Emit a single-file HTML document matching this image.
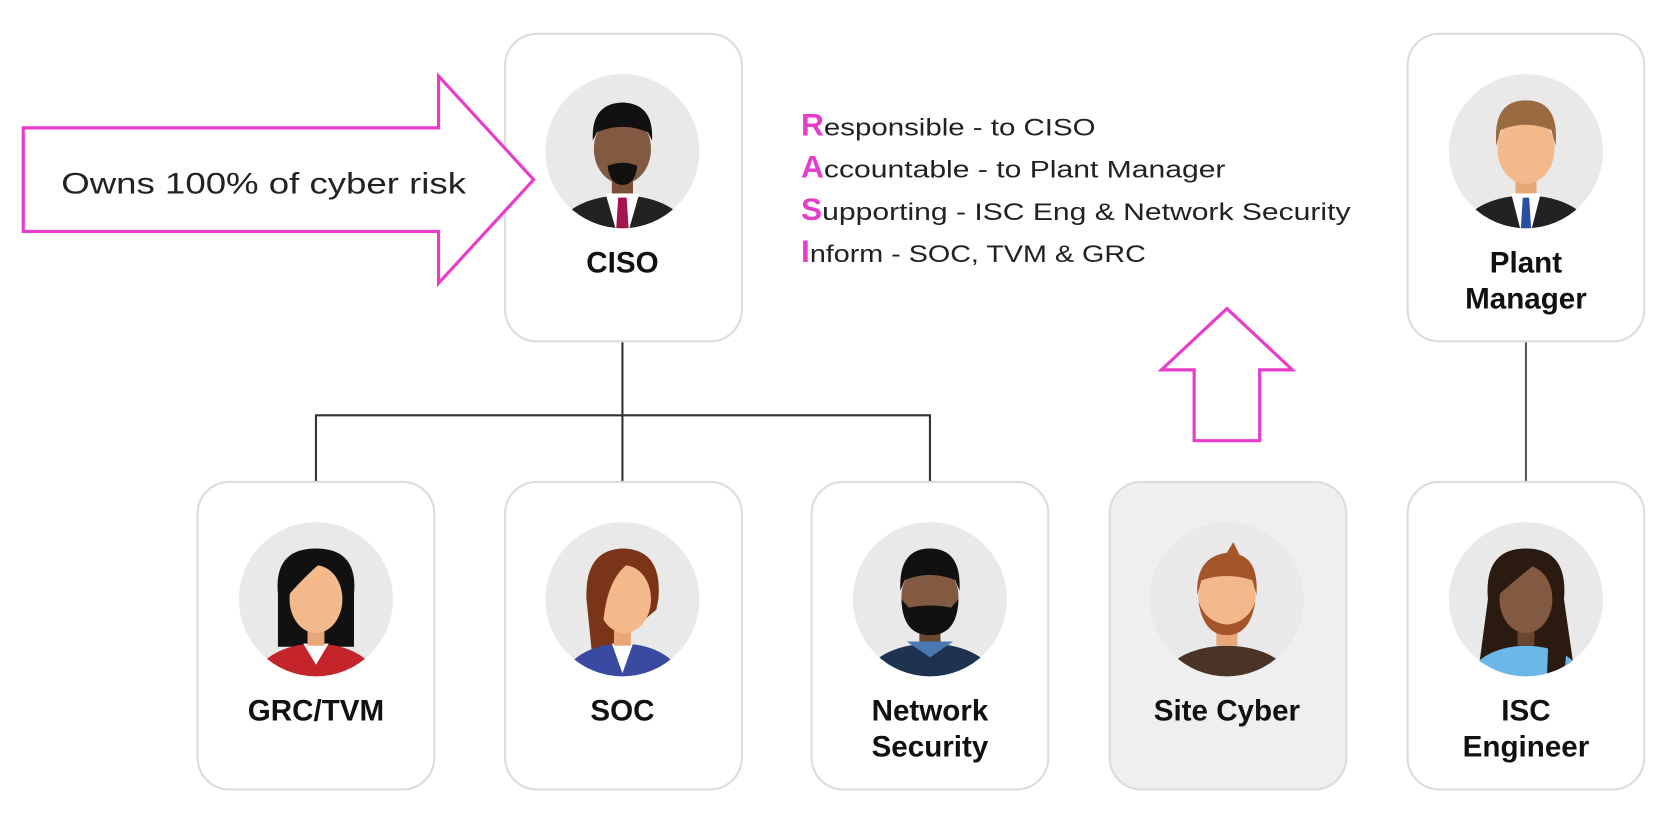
<!DOCTYPE html>
<html><head><meta charset="utf-8"><style>
html,body{margin:0;padding:0;background:#fff;}
svg{display:block;}
text{font-family:"Liberation Sans",sans-serif;}
</style></head><body>
<svg width="1657" height="837" viewBox="0 0 1568 792" preserveAspectRatio="none" xmlns="http://www.w3.org/2000/svg">
<defs>
<clipPath id="c"><circle cx="0" cy="0" r="73"/></clipPath>
</defs>
<rect width="1568" height="792" fill="#fff"/>
<g stroke="#333" stroke-width="2" fill="none">
<path d="M589 323V456M299 456V393H880V456"/>
<path d="M1444 323V456" stroke="#555"/>
</g>
<g stroke="#dcdcdc" stroke-width="2">
<rect x="478" y="32" width="224" height="291" rx="30" fill="#fff"/>
<rect x="1332" y="32" width="224" height="291" rx="30" fill="#fff"/>
<rect x="187" y="456" width="224" height="291" rx="30" fill="#fff"/>
<rect x="478" y="456" width="224" height="291" rx="30" fill="#fff"/>
<rect x="768" y="456" width="224" height="291" rx="30" fill="#fff"/>
<rect x="1050" y="456" width="224" height="291" rx="30" fill="#efefef"/>
<rect x="1332" y="456" width="224" height="291" rx="30" fill="#fff"/>
</g>
<g transform="translate(589,143)"><g clip-path="url(#c)">
<circle r="73" fill="#e9e9e9"/>
<ellipse cx="0" cy="78" rx="62" ry="36" fill="#222"/>
<path d="M-16 40 L16 40 L6 75 L-6 75Z" fill="#fff"/>
<path d="M-4 44 L4 44 L6 75 L-6 75Z" fill="#a3154e"/>
<rect x="-10" y="20" width="20" height="20" fill="#7a5038"/>
<ellipse cx="0" cy="-2" rx="27" ry="33" fill="#825a41"/>
<path d="M-28 -10 Q-30 -45 0 -46 Q30 -45 28 -10 L24 -18 Q0 -28 -24 -18Z" fill="#111"/>
<path d="M-14 14 Q0 8 14 14 Q12 32 0 32 Q-12 32 -14 14Z" fill="#111"/>
</g></g>
<g transform="translate(1444,143)"><g clip-path="url(#c)">
<circle r="73" fill="#e9e9e9"/>
<ellipse cx="0" cy="78" rx="62" ry="36" fill="#222"/>
<path d="M-14 40 L14 40 L5 75 L-5 75Z" fill="#fff"/>
<path d="M-3 44 L3 44 L5 75 L-5 75Z" fill="#2a4fa0"/>
<rect x="-10" y="20" width="20" height="20" fill="#e8a777"/>
<ellipse cx="0" cy="-2" rx="27" ry="33" fill="#f4b98b"/>
<path d="M-28 -5 Q-32 -48 0 -48 Q32 -48 28 -5 L24 -20 Q0 -30 -24 -20Z" fill="#9a6a40"/>
</g></g>
<g transform="translate(299,567)"><g clip-path="url(#c)">
<circle r="73" fill="#e9e9e9"/>
<path d="M-36 -5 Q-40 -48 0 -48 Q40 -48 36 -5 L36 45 L-36 45Z" fill="#111"/>
<ellipse cx="0" cy="78" rx="58" ry="36" fill="#c3252b"/>
<path d="M-12 42 L12 42 L0 62Z" fill="#fff"/>
<rect x="-8" y="20" width="16" height="24" fill="#e8a777"/>
<ellipse cx="0" cy="0" rx="25" ry="32" fill="#f4b98b"/>
<path d="M-26 -4 Q-26 -36 4 -34 Q-10 -22 -26 -4Z" fill="#111"/>
</g></g>
<g transform="translate(589,567)"><g clip-path="url(#c)">
<circle r="73" fill="#e9e9e9"/>
<path d="M-34 0 Q-36 -48 2 -48 Q38 -46 34 0 L32 10 L-28 60Z" fill="#7a3418"/>
<ellipse cx="0" cy="78" rx="56" ry="36" fill="#3a4aa0"/>
<path d="M-10 42 L10 42 L0 70Z" fill="#fff"/>
<rect x="-8" y="20" width="16" height="24" fill="#e8a777"/>
<ellipse cx="2" cy="0" rx="25" ry="32" fill="#f4b98b"/>
<path d="M-24 10 Q-26 -36 6 -34 Q-14 -20 -18 20Z" fill="#7a3418"/>
</g></g>
<g transform="translate(880,567)"><g clip-path="url(#c)">
<circle r="73" fill="#e9e9e9"/>
<ellipse cx="0" cy="78" rx="62" ry="36" fill="#1e3350"/>
<path d="M-22 40 L22 40 L0 55Z" fill="#4a78b0"/>
<rect x="-10" y="20" width="20" height="20" fill="#6a4530"/>
<ellipse cx="0" cy="-2" rx="27" ry="33" fill="#825a41"/>
<path d="M-28 -8 Q-30 -48 0 -48 Q30 -48 28 -8 L24 -18 Q0 -28 -24 -18Z" fill="#111"/>
<path d="M-27 0 Q-26 34 0 34 Q26 34 27 0 L20 8 Q0 4 -20 8Z" fill="#111"/>
</g></g>
<g transform="translate(1161,567)"><g clip-path="url(#c)">
<circle r="73" fill="#e9e9e9"/>
<ellipse cx="0" cy="80" rx="62" ry="36" fill="#4a3428"/>
<rect x="-10" y="20" width="20" height="24" fill="#e8a777"/>
<ellipse cx="0" cy="-2" rx="27" ry="33" fill="#f4b98b"/>
<path d="M-28 -4 Q-30 -40 0 -44 L6 -54 L12 -42 Q30 -36 28 -4 L24 -18 Q0 -26 -24 -18Z" fill="#a5552a"/>
<path d="M-27 2 Q-22 34 0 34 Q22 34 27 2 Q20 22 0 24 Q-20 22 -27 2Z" fill="#a5552a"/>
</g></g>
<g transform="translate(1444,567)"><g clip-path="url(#c)">
<circle r="73" fill="#e9e9e9"/>
<path d="M-36 0 Q-40 -48 0 -48 Q40 -48 36 0 L46 70 L-44 60Z" fill="#2a1a10"/>
<ellipse cx="0" cy="80" rx="56" ry="36" fill="#6ab8e8"/>
<rect x="-8" y="20" width="16" height="24" fill="#6a4530"/>
<ellipse cx="0" cy="0" rx="25" ry="32" fill="#825a41"/>
<path d="M-26 -4 Q-24 -38 10 -34 Q-6 -22 -26 -4Z" fill="#2a1a10"/>
<path d="M22 20 L40 30 L36 75 L20 70Z" fill="#2a1a10"/>
</g></g>
<g font-size="28" font-weight="bold" fill="#111" text-anchor="middle">
<text x="589" y="258">CISO</text>
<text x="1444" y="258">Plant</text>
<text x="1444" y="292">Manager</text>
<text x="299" y="682">GRC/TVM</text>
<text x="589" y="682">SOC</text>
<text x="880" y="682">Network</text>
<text x="880" y="716">Security</text>
<text x="1161" y="682">Site Cyber</text>
<text x="1444" y="682">ISC</text>
<text x="1444" y="716">Engineer</text>
</g>
<polygon points="22,121 415,121 415,72 505,170 415,268 415,219 22,219" fill="#fff" stroke="#e83ccb" stroke-width="3"/>
<text x="58" y="183" font-size="28" fill="#222" textLength="383" lengthAdjust="spacingAndGlyphs">Owns 100% of cyber risk</text>
<polygon points="1130,417 1130,350 1099,350 1161,292 1223,350 1192,350 1192,417" fill="#fff" stroke="#e83ccb" stroke-width="3"/>
<g font-size="23" fill="#222">
<text x="758" y="128"><tspan font-size="30" font-weight="bold" fill="#e83ccb">R</tspan><tspan textLength="257" lengthAdjust="spacingAndGlyphs">esponsible - to CISO</tspan></text>
<text x="758" y="168"><tspan font-size="30" font-weight="bold" fill="#e83ccb">A</tspan><tspan textLength="380" lengthAdjust="spacingAndGlyphs">ccountable - to Plant Manager</tspan></text>
<text x="758" y="208"><tspan font-size="30" font-weight="bold" fill="#e83ccb">S</tspan><tspan textLength="500" lengthAdjust="spacingAndGlyphs">upporting - ISC Eng &amp; Network Security</tspan></text>
<text x="758" y="248"><tspan font-size="30" font-weight="bold" fill="#e83ccb">I</tspan><tspan textLength="318" lengthAdjust="spacingAndGlyphs">nform - SOC, TVM &amp; GRC</tspan></text>
</g>
</svg>
</body></html>
